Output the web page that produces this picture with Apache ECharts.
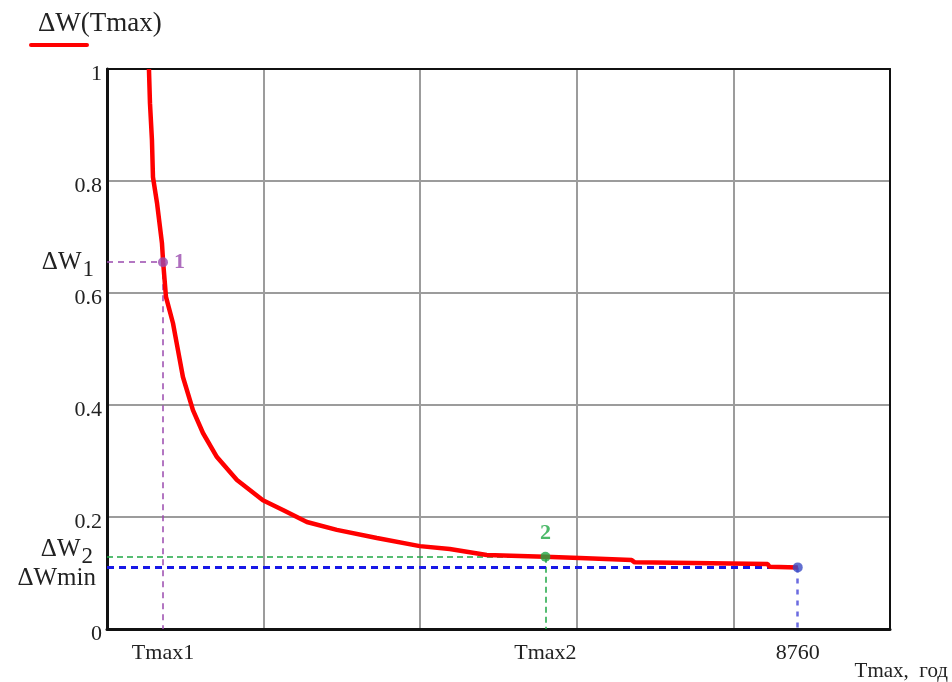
<!DOCTYPE html>
<html>
<head>
<meta charset="utf-8">
<script src="https://cdn.jsdelivr.net/npm/echarts@6/dist/echarts.min.js"></script>
<style>
  html, body { margin: 0; padding: 0; background: #fff; }
  #chart { width: 952px; height: 682px; }
</style>
</head>
<body>
<div id="chart"></div>
<script>
// ΔW(Tmax) curve
const tmaxValues = [532, 545, 570, 583, 634, 697, 712, 748, 837, 900, 963, 1090, 1217, 1394, 1648, 1977,
  2231, 2535, 2915, 3422, 3967, 4347, 4816, 5551, 5995, 6654, 6692, 7427, 8378, 8403, 8760];
const dwValues = [1.0, 0.939, 0.873, 0.807, 0.761, 0.689, 0.655, 0.593, 0.546, 0.498, 0.450, 0.391, 0.350,
  0.307, 0.266, 0.230, 0.2125, 0.191, 0.177, 0.1625, 0.148, 0.143, 0.132, 0.129, 0.127, 0.123, 0.119,
  0.118, 0.116, 0.111, 0.11];

// marked points: 1, 2 and the end (8760)
const pointNames = ['1', '2', ''];
const pointT = [710, 5560, 8760];
const pointW = [0.655, 0.129, 0.11];

// custom x tick labels
const xTickValues = [710, 5560, 8760];
const xTickLabels = ['Tmax1', 'Tmax2', '8760'];

const SERIF = '"Liberation Serif", "DejaVu Serif", serif';
const PURPLE = '#9a4aae', GREEN = '#1fa844', BLUE = '#1818e6', BLUE2 = '#6b6be0';

const chart = echarts.init(document.getElementById('chart'));

const hLine = (t, w, color, width, type, label) => ({
  lineStyle: { color, width, type },
  label,
  data: [[{ coord: [0, w] }, { coord: [t, w] }]]
});

const vLine = (t, w, color, width, type) => ({
  type: 'line', data: [], silent: true,
  markLine: { symbol: 'none', silent: true, label: { show: false },
    lineStyle: { color, width, type },
    data: [[{ coord: [t, w] }, { coord: [t, 0] }]] }
});

const subRich = {
  a: { fontFamily: SERIF, fontSize: 25, color: '#222' },
  b: { fontFamily: SERIF, fontSize: 23, color: '#222', padding: [15, 0, 0, 1] }
};

// top / right border of the plot
const frameAxis = { show: true, onZero: false, lineStyle: { color: '#111', width: 2 } };

const option = {
  animation: false,
  backgroundColor: '#fff',
  title: {
    text: 'ΔW(Tmax)',
    left: 33, top: 5,
    textStyle: { fontFamily: SERIF, fontSize: 27, fontWeight: 'normal', color: '#222' }
  },
  graphic: [
    { type: 'line', shape: { x1: 31, y1: 45, x2: 87, y2: 45 }, style: { stroke: '#ff0000', lineWidth: 4, lineCap: 'round' } },
    { type: 'text', right: 4, bottom: 0, style: { text: 'Tmax,  год', font: '21px ' + SERIF, fill: '#222' } }
  ],
  grid: {
    left: 107, right: 62, top: 69, bottom: 53
  },
  xAxis: [{
    type: 'value',
    min: 0, max: 9930, interval: 1986,
    axisLine: { show: true, onZero: false, lineStyle: { color: '#111', width: 3 } },
    axisTick: { show: false },
    axisLabel: {
      customValues: xTickValues,
      margin: 13,
      fontFamily: SERIF, fontSize: 22, color: '#222',
      formatter: v => xTickLabels[xTickValues.indexOf(v)] ?? ''
    },
    splitLine: { show: true, lineStyle: { color: '#9c9c9c', width: 2 } }
  }, {
    type: 'value', position: 'top', z: 5,
    min: 0, max: 9930, interval: 1986,
    axisLine: frameAxis, axisTick: { show: false }, axisLabel: { show: false }, splitLine: { show: false }
  }],
  yAxis: [{
    type: 'value',
    min: 0, max: 1, interval: 0.2,
    axisLine: { show: true, onZero: false, lineStyle: { color: '#111', width: 3 } },
    axisTick: { show: false },
    axisLabel: {
      margin: 5,
      formatter: '{v|{value}}',
      rich: { v: { fontFamily: SERIF, fontSize: 22, color: '#222', padding: [10, 0, 0, 0] } }
    },
    splitLine: { show: true, lineStyle: { color: '#9c9c9c', width: 2 } }
  }, {
    type: 'value', position: 'right', z: 5,
    min: 0, max: 1, interval: 0.2,
    axisLine: frameAxis, axisTick: { show: false }, axisLabel: { show: false }, splitLine: { show: false }
  }],
  series: [
    // guide lines
    {
      type: 'line', data: [], silent: true,
      markLine: Object.assign({ symbol: 'none', silent: true },
        hLine(pointT[0], pointW[0], PURPLE, 1.5, [6, 5], {
          position: 'start', distance: 13,
          formatter: '{a|ΔW}{b|1}', rich: subRich
        }))
    },
    vLine(pointT[0], pointW[0], PURPLE, 1.5, [6, 5]),
    {
      type: 'line', data: [], silent: true,
      markLine: Object.assign({ symbol: 'none', silent: true },
        hLine(pointT[1], pointW[1], GREEN, 1.5, [6, 4], {
          position: 'start', distance: 14, padding: [0, 0, 14, 0],
          formatter: '{a|ΔW}{b|2}', rich: subRich
        }))
    },
    vLine(pointT[1], pointW[1], GREEN, 1.5, [6, 4]),
    {
      type: 'line', data: [], silent: true,
      markLine: Object.assign({ symbol: 'none', silent: true },
        hLine(pointT[2], pointW[2], BLUE, 3, [7, 5], {
          position: 'start', distance: 11,
          formatter: '{a|ΔWmin}',
          rich: { a: { fontFamily: SERIF, fontSize: 25, color: '#222', padding: [22, 0, 0, 0] } }
        }))
    },
    vLine(pointT[2], pointW[2], BLUE2, 2.5, [5, 6]),
    // the curve
    {
      name: 'ΔW(Tmax)',
      type: 'line',
      data: tmaxValues.map((t, i) => [t, dwValues[i]]),
      showSymbol: false,
      lineStyle: { color: '#ff0000', width: 4.5 },
      z: 5
    },
    // marked points
    {
      type: 'scatter',
      symbolSize: 10,
      z: 6,
      data: pointT.map((t, i) => ({
        value: [t, pointW[i]],
        itemStyle: { color: [PURPLE, GREEN, '#3a4bc4'][i] },
        label: {
          show: pointNames[i] !== '',
          formatter: pointNames[i],
          position: i === 0 ? 'right' : 'top',
          distance: i === 0 ? 6 : 7,
          fontFamily: SERIF, fontSize: 22, fontWeight: 'bold',
          color: [PURPLE, GREEN, '#3a4bc4'][i]
        }
      }))
    }
  ]
};

chart.setOption(option);
</script>
</body>
</html>
